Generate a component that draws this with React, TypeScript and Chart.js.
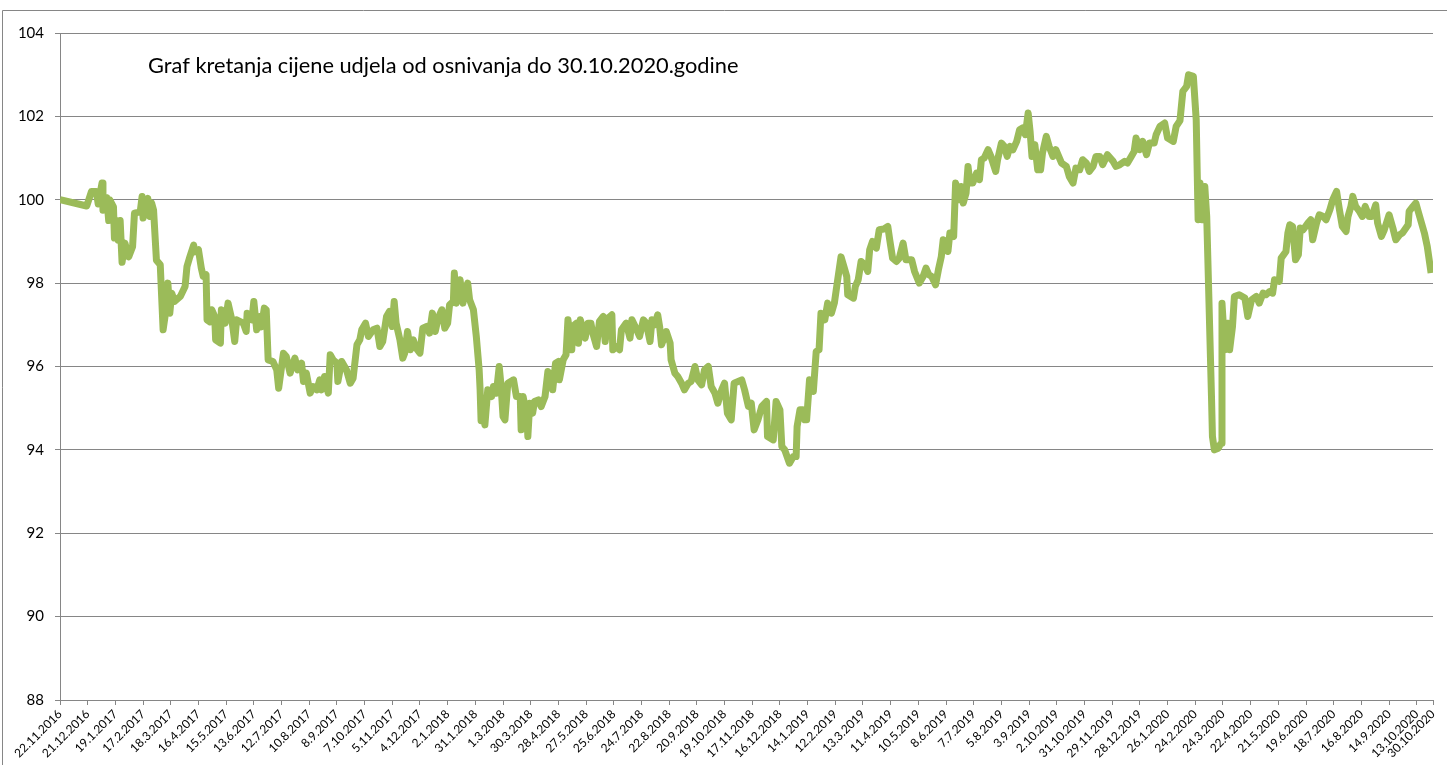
import React, { useEffect, useRef } from "react";
import { Chart, registerables } from "chart.js";

Chart.register(...registerables);

const chartTitle = "Graf kretanja cijene udjela od osnivanja do 30.10.2020.godine";

const tickLabels = [
  "22.11.2016", "21.12.2016", "19.1.2017", "17.2.2017", "18.3.2017", "16.4.2017", "15.5.2017",
  "13.6.2017", "12.7.2017", "10.8.2017", "8.9.2017", "7.10.2017", "5.11.2017", "4.12.2017",
  "2.1.2018", "31.1.2018", "1.3.2018", "30.3.2018", "28.4.2018", "27.5.2018", "25.6.2018",
  "24.7.2018", "22.8.2018", "20.9.2018", "19.10.2018", "17.11.2018", "16.12.2018", "14.1.2019",
  "12.2.2019", "13.3.2019", "11.4.2019", "10.5.2019", "8.6.2019", "7.7.2019", "5.8.2019",
  "3.9.2019", "2.10.2019", "31.10.2019", "29.11.2019", "28.12.2019", "26.1.2020", "24.2.2020",
  "24.3.2020", "22.4.2020", "21.5.2020", "19.6.2020", "18.7.2020", "16.8.2020", "14.9.2020",
  "13.10.2020", "30.10.2020",
];
// days since 22.11.2016 for each tick label
const tickDays = [
  0, 29, 58, 87, 116, 145, 174, 203, 232, 261, 290, 319, 348, 377, 406, 435, 464, 493, 522, 551,
  580, 609, 638, 667, 696, 725, 754, 783, 812, 841, 870, 899, 928, 957, 986, 1015, 1044, 1073,
  1102, 1131, 1160, 1189, 1218, 1247, 1276, 1305, 1334, 1363, 1392, 1421, 1438,
];

// days since 22.11.2016
const dayOffsets = [
  0, 28, 33, 38, 40, 44, 45, 49, 51, 52, 56, 57, 59, 61, 63, 65, 68, 72, 76, 78, 84, 86, 87, 89,
  92, 94, 96, 98, 101, 105, 108, 112, 113, 115, 117, 120, 126, 131, 133, 136, 140, 141, 145, 148,
  150, 153, 154, 157, 159, 162, 163, 168, 169, 173, 176, 180, 183, 185, 192, 195, 196, 201, 203,
  206, 209, 211, 214, 216, 218, 223, 227, 229, 234, 237, 241, 246, 249, 253, 255, 258, 262, 265,
  269, 272, 274, 277, 281, 283, 286, 290, 291, 295, 300, 304, 307, 311, 314, 316, 320, 323, 328,
  332, 335, 338, 342, 345, 348, 350, 352, 356, 359, 361, 364, 367, 370, 373, 377, 380, 384, 387,
  390, 393, 396, 400, 403, 406, 408, 412, 413, 415, 419, 422, 424, 427, 429, 433, 436, 439, 440,
  441, 443, 445, 448, 452, 454, 457, 460, 462, 464, 466, 469, 475, 478, 482, 483, 485, 489, 490,
  492, 495, 497, 501, 504, 508, 511, 515, 516, 519, 522, 523, 527, 530, 532, 536, 537, 541, 543,
  545, 550, 553, 556, 558, 562, 565, 569, 571, 574, 578, 579, 583, 586, 588, 593, 597, 599, 604,
  607, 611, 614, 618, 620, 623, 626, 628, 630, 635, 639, 640, 644, 647, 651, 654, 658, 661, 665,
  668, 672, 675, 679, 682, 686, 689, 693, 696, 699, 703, 706, 714, 717, 721, 724, 727, 731, 735,
  740, 741, 747, 750, 754, 756, 759, 764, 768, 771, 772, 775, 778, 780, 782, 785, 789, 792, 795,
  797, 801, 804, 808, 811, 813, 818, 821, 824, 825, 831, 833, 836, 839, 843, 846, 848, 851, 855,
  858, 863, 867, 869, 872, 876, 879, 883, 886, 892, 895, 900, 904, 907, 910, 913, 917, 920, 923,
  925, 928, 930, 932, 936, 938, 942, 944, 946, 949, 951, 953, 956, 960, 963, 965, 968, 972, 975,
  980, 982, 986, 989, 992, 995, 998, 1002, 1005, 1008, 1011, 1014, 1016, 1018, 1021, 1024, 1027,
  1029, 1033, 1036, 1040, 1043, 1049, 1054, 1057, 1061, 1064, 1068, 1071, 1075, 1078, 1082, 1085,
  1089, 1092, 1097, 1103, 1106, 1110, 1115, 1118, 1122, 1125, 1127, 1131, 1134, 1138, 1141, 1146,
  1148, 1152, 1157, 1160, 1166, 1169, 1173, 1176, 1180, 1182, 1187, 1190, 1192, 1194, 1196, 1199,
  1201, 1206, 1207, 1209, 1213, 1216, 1217, 1220, 1223, 1225, 1228, 1230, 1235, 1241, 1244, 1248,
  1253, 1256, 1260, 1263, 1267, 1270, 1272, 1277, 1279, 1284, 1286, 1288, 1291, 1294, 1297, 1299,
  1302, 1307, 1310, 1312, 1316, 1319, 1323, 1326, 1330, 1333, 1337, 1340, 1343, 1347, 1349, 1352,
  1354, 1357, 1361, 1364, 1367, 1371, 1374, 1378, 1380, 1384, 1387, 1392, 1396, 1399, 1403, 1406,
  1412, 1413, 1417, 1420, 1423, 1426, 1429, 1432, 1436,
];

const prices = [
  100.0, 99.85, 100.2, 100.2, 99.9, 100.4, 99.75, 100.05, 99.5, 100.0, 99.83, 99.08, 99.5, 99.03,
  99.5, 98.5, 98.96, 98.63, 98.87, 99.68, 99.71, 100.08, 99.56, 99.92, 100.03, 99.6, 99.92, 99.75,
  98.55, 98.44, 96.88, 97.52, 98.0, 97.28, 97.76, 97.56, 97.68, 97.92, 98.4, 98.63, 98.91, 98.75,
  98.8, 98.36, 98.16, 98.2, 97.12, 97.07, 97.36, 97.2, 96.64, 96.56, 97.36, 97.04, 97.52, 97.12,
  96.6, 97.12, 97.04, 96.84, 97.28, 97.12, 97.56, 96.88, 97.2, 96.95, 97.4, 97.36, 96.16, 96.12,
  95.92, 95.48, 96.32, 96.24, 95.84, 96.2, 95.92, 96.08, 95.64, 95.84, 95.36, 95.52, 95.44, 95.68,
  95.44, 95.76, 95.36, 96.28, 96.16, 96.08, 95.64, 96.12, 95.92, 95.6, 95.72, 96.52, 96.64, 96.88,
  97.04, 96.72, 96.88, 96.92, 96.48, 96.6, 97.2, 97.32, 96.96, 97.56, 97.04, 96.64, 96.2, 96.32,
  96.84, 96.4, 96.64, 96.44, 96.32, 96.92, 96.96, 96.8, 97.28, 96.84, 97.16, 97.36, 96.92, 97.04,
  97.48, 97.56, 98.24, 97.52, 98.08, 97.52, 97.84, 98.0, 97.6, 97.36, 96.72, 95.92, 95.44, 94.7,
  94.96, 94.6, 95.44, 95.28, 95.52, 95.36, 96.0, 95.52, 94.8, 94.72, 95.6, 95.68, 95.28, 95.28,
  94.48, 95.28, 94.8, 94.32, 95.12, 94.88, 95.16, 95.2, 95.04, 95.28, 95.88, 95.76, 95.44, 96.08,
  96.12, 95.68, 96.16, 96.28, 97.12, 96.4, 96.96, 97.04, 96.56, 97.12, 96.68, 97.04, 97.04, 96.8,
  96.48, 97.08, 97.2, 96.6, 97.16, 97.24, 96.4, 96.48, 96.4, 96.88, 97.04, 96.68, 97.12, 96.88,
  96.72, 97.12, 97.04, 96.6, 97.12, 97.0, 97.24, 96.96, 96.52, 96.84, 96.56, 96.16, 95.84, 95.76,
  95.6, 95.44, 95.6, 95.64, 96.0, 95.68, 95.56, 95.92, 96.0, 95.52, 95.36, 95.12, 95.44, 95.6,
  94.88, 94.72, 95.6, 95.68, 95.44, 95.04, 95.12, 94.48, 94.72, 95.04, 95.16, 94.32, 94.24, 95.16,
  94.96, 94.08, 94.0, 93.68, 93.84, 93.84, 94.56, 94.96, 94.96, 94.72, 94.72, 95.68, 95.4, 96.36,
  96.4, 97.28, 97.12, 97.52, 97.28, 97.52, 97.84, 98.63, 98.4, 98.16, 97.72, 97.64, 97.92, 98.08,
  98.52, 98.44, 98.28, 98.8, 99.0, 98.84, 99.28, 99.3, 99.36, 99.04, 98.6, 98.52, 98.6, 98.96,
  98.56, 98.56, 98.28, 98.0, 98.16, 98.36, 98.2, 98.16, 97.96, 98.32, 98.63, 99.04, 99.0, 98.76,
  99.2, 99.12, 100.4, 100.0, 100.32, 99.92, 100.16, 100.8, 100.4, 100.4, 100.64, 100.48, 100.96,
  101.0, 101.2, 101.04, 100.68, 100.96, 101.36, 101.28, 101.04, 101.28, 101.2, 101.4, 101.68,
  101.72, 101.56, 102.08, 101.64, 101.04, 101.32, 100.72, 100.72, 101.12, 101.52, 101.28, 101.04,
  101.2, 100.88, 100.8, 100.56, 100.4, 100.76, 100.72, 100.96, 100.88, 100.68, 100.8, 101.04,
  101.04, 100.84, 101.08, 100.92, 100.8, 100.84, 100.92, 100.88, 101.04, 101.16, 101.48, 101.2,
  101.4, 101.08, 101.36, 101.36, 101.56, 101.76, 101.84, 101.48, 101.4, 101.76, 101.9, 102.6,
  102.72, 103.0, 102.96, 101.92, 99.52, 100.4, 99.52, 100.32, 99.6, 95.28, 94.32, 94.0, 94.04,
  94.16, 97.52, 96.4, 97.04, 96.4, 96.96, 97.68, 97.72, 97.64, 97.2, 97.6, 97.68, 97.52, 97.76,
  97.72, 97.8, 97.76, 98.08, 98.04, 98.6, 98.76, 99.2, 99.4, 99.36, 98.56, 98.68, 99.32, 99.28,
  99.44, 99.52, 99.04, 99.44, 99.64, 99.6, 99.52, 99.76, 100.0, 100.2, 99.76, 99.36, 99.24, 99.6,
  99.84, 100.08, 99.84, 99.72, 99.6, 99.84, 99.6, 99.6, 99.88, 99.44, 99.12, 99.28, 99.64, 99.32,
  99.04, 99.16, 99.2, 99.4, 99.72, 99.84, 99.92, 99.68, 99.44, 99.2, 98.88, 98.24,
];

const yMin = 88;
const yMax = 104;
const yStep = 2;

const LINE_COLOR = "#9BBB59";
const GRID_COLOR = "#868686";
const FONT = "Lato, 'Open Sans', sans-serif";

const framePlugin = {
  id: "frame",
  beforeDraw(chart: any) {
    const ctx = chart.ctx;
    ctx.save();
    ctx.strokeStyle = GRID_COLOR;
    ctx.lineWidth = 1;
    ctx.beginPath();
    ctx.moveTo(2.5, chart.height);
    ctx.lineTo(2.5, 10.5);
    ctx.lineTo(chart.width, 10.5);
    ctx.stroke();
    ctx.restore();
  },
};

const titlePlugin = {
  id: "insideTitle",
  afterDraw(chart: any) {
    const ctx = chart.ctx;
    const area = chart.chartArea;
    ctx.save();
    ctx.fillStyle = "#000";
    ctx.font = `21.8px ${FONT}`;
    ctx.textBaseline = "middle";
    ctx.textAlign = "left";
    ctx.fillText(chartTitle, area.left + 88, area.top + 33);
    ctx.restore();
  },
};

export default function App() {
  const canvasRef = useRef<HTMLCanvasElement | null>(null);

  useEffect(() => {
    if (!canvasRef.current) return;
    const points = dayOffsets.map((d, i) => ({ x: d, y: prices[i] }));
    const chart = new Chart(canvasRef.current, {
      type: "line",
      data: {
        datasets: [
          {
            data: points,
            borderColor: LINE_COLOR,
            backgroundColor: LINE_COLOR,
            borderWidth: 7,
            pointRadius: 0,
            tension: 0,
            borderJoinStyle: "round",
            borderCapStyle: "butt",
            fill: false,
          },
        ],
      },
      options: {
        animation: false,
        responsive: false,
        devicePixelRatio: 1,
        layout: { padding: { left: 0, top: 33, right: 14, bottom: 0 } },
        plugins: {
          legend: { display: false },
          tooltip: { enabled: false },
          title: { display: false },
        },
        scales: {
          x: {
            type: "linear",
            min: tickDays[0],
            max: tickDays[tickDays.length - 1],
            afterBuildTicks: (scale: any) => {
              scale.ticks = tickDays.map((v) => ({ value: v }));
            },
            afterFit: (scale: any) => {
              scale.height = 65;
            },
            ticks: {
              autoSkip: false,
              minRotation: 45,
              maxRotation: 45,
              padding: 2,
              color: "#000",
              font: { family: FONT, size: 12 },
              callback: (_v: any, index: number) => tickLabels[index],
            },
            grid: {
              drawOnChartArea: false,
              drawTicks: true,
              tickLength: 5,
              color: GRID_COLOR,
            },
            border: { color: GRID_COLOR },
          },
          y: {
            min: yMin,
            max: yMax,
            afterFit: (scale: any) => {
              scale.width = 60;
            },
            ticks: {
              stepSize: yStep,
              padding: 11,
              color: "#000",
              font: { family: FONT, size: 15 },
            },
            grid: {
              color: GRID_COLOR,
              tickLength: 5,
            },
            border: { color: GRID_COLOR },
          },
        },
      },
      plugins: [framePlugin, titlePlugin],
    } as any);
    return () => chart.destroy();
  }, []);

  return (
    <div style={{ position: "absolute", left: 0, top: 0, width: 1447, height: 765, background: "#fff" }}>
      <canvas ref={canvasRef} width={1447} height={765} style={{ display: "block" }} />
    </div>
  );
}
